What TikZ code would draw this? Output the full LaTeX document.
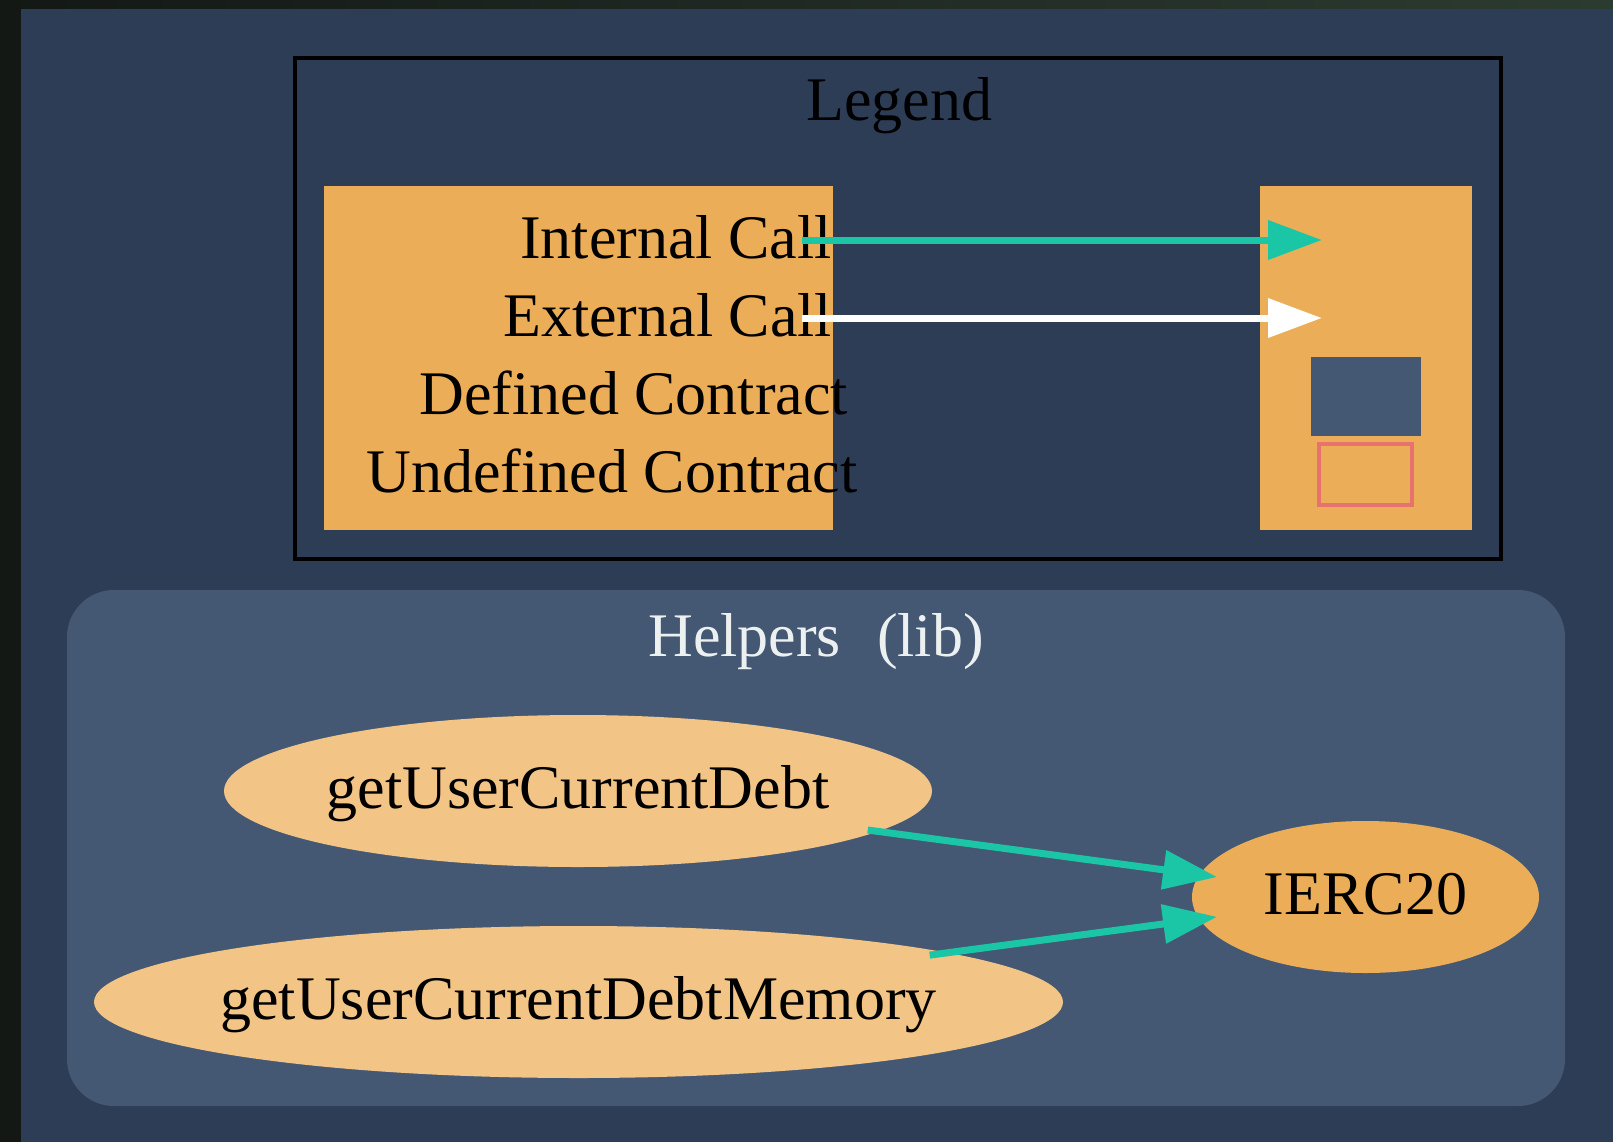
\documentclass[tikz,border=0pt]{standalone}
\usepackage{fontspec}
\setmainfont{Liberation Serif}
\usetikzlibrary{positioning,arrows.meta,shapes.geometric}
\definecolor{edge}{HTML}{131815}
\definecolor{edgehi}{HTML}{2C3B30}
\definecolor{canvas}{HTML}{2E3D56}
\definecolor{cluster}{HTML}{445873}
\definecolor{amber}{HTML}{EBAD57}
\definecolor{sand}{HTML}{F2C485}
\definecolor{callteal}{HTML}{1BC6A6}
\definecolor{coral}{HTML}{E8726D}
\definecolor{paper}{HTML}{ECF0F1}

\begin{document}
\begin{tikzpicture}[x=0.5pt,y=-0.5pt,
    lbl/.style={font=\fontsize{31}{37}\selectfont,inner sep=0pt,anchor=base},
    keybox/.style={fill=amber,minimum height=172pt,inner sep=0pt},
    fn/.style={ellipse,fill=sand,minimum height=76pt,inner sep=0pt,
      font=\fontsize{31}{37}\selectfont,text height=23.9pt,text depth=6.8pt,text width=0pt,align=center},
    call/.style={line width=3.5pt,-{Triangle[length=27pt,width=19pt]}}]
      \useasboundingbox (0,0) rectangle (1613,1142);
      \fill[edge] (0,0) rectangle (1613,1142);
      \shade[left color=edge,right color=edgehi] (0,0) rectangle (1613,9);
      \fill[canvas] (21,9) rectangle (1613,1142);
      \draw[line width=2pt] (295,58) rectangle (1501,559);
      \node[lbl] (legend) at (899.5,120.7) {Legend};
      \node[keybox,minimum width=254.5pt] (keyl) at (578.5,358) {};
      \node[keybox,minimum width=106pt] (keyr) at (1366,358) {};
      \node[lbl] (intcall) at (676,258.7) {Internal Call};
      \node[lbl] (extcall) at (667.7,336.7) {External Call};
      \node[lbl] (defc) at (633.7,414.3) {Defined Contract};
      \node[lbl] (undefc) at (612,492.3) {Undefined Contract};
      \node[fill=cluster,minimum width=55pt,minimum height=39.5pt,inner sep=0pt] (defkey) at (1366,396.5) {};
      \node[draw=coral,line width=2pt,minimum width=46.5pt,minimum height=30.5pt,inner sep=0pt] (undefkey) at (1365.5,474.5) {};
      \coordinate (intsrc) at (802,240);
      \coordinate (inttgt) at (1322,240);
      \coordinate (extsrc) at (802,318);
      \coordinate (exttgt) at (1322,318);
      \draw[call,callteal] (intsrc) -- (inttgt);
      \draw[call,white] (extsrc) -- (exttgt);
      \fill[cluster,rounded corners=23.5pt] (67,590) rectangle (1565,1106);
      \node[lbl,text=paper] (helpers) at (816,656.7) {Helpers\hspace{0.58em}(lib)};
      \node[fn,minimum width=354pt] (debt) at (578,791) {\makebox[0pt]{getUserCurrentDebt}};
      \node[fn,minimum width=484.5pt] (debtmem) at (578.5,1002) {\makebox[0pt]{getUserCurrentDebtMemory}};
      \node[fn,fill=amber,minimum width=173.5pt] (ierc) at (1365.5,897) {\makebox[0pt]{IERC20}};
      \draw[call,callteal,shorten <=-5.5pt,shorten >=-9pt] (debt) -- (ierc);
      \draw[call,callteal,shorten <=-9.5pt,shorten >=-9pt] (debtmem) -- (ierc);
    \end{tikzpicture}
\end{document}
